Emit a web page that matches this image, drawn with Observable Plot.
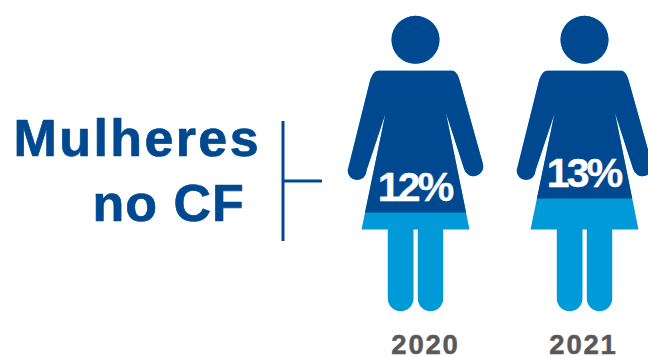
<!DOCTYPE html>
<html lang="pt">
<head>
<meta charset="utf-8">
<script src="https://cdn.jsdelivr.net/npm/d3@7"></script>
<script src="https://cdn.jsdelivr.net/npm/@observablehq/plot@0.6"></script>
<style>
  html, body { margin: 0; padding: 0; background: #fff; }
  .pct text { letter-spacing: -2.8px; }
  .years text { letter-spacing: 1.8px; }
  .head-wide text { letter-spacing: 2.4px; }
  .head-tight text { letter-spacing: 1px; }
</style>
</head>
<body>
<script>
const years = [2020, 2021];
const shares = [12, 13];
const headingLines = ["Mulheres", "no CF"];

const DARK = "#00488f";
const LIGHT = "#009ad9";
const GREY = "#595959";

// The scales place a year on its figure and a share on its waterline.
const xPos = d3.scaleLinear().domain([2020, 2021]).range([415, 584]);
const yPos = d3.scaleLinear().domain([12, 13]).range([212, 198]);
const atX = (px) => xPos.invert(px);
const atY = (py) => yPos.invert(py);

const rows = years.map((year, i) => ({year, share: shares[i]}));
const frameTop = atY(0);

// The first year's caption sits a little right of its figure.
const captionShift = {2020: 10, 2021: -1};

// Pictogram outline, drawn around an anchor at the figure's centre on the frame's top edge.
const woman = {
  draw(c) {
    c.moveTo(24, 39.3);
    c.arc(0, 39.3, 24, 0, 2 * Math.PI);
    c.closePath();

    c.moveTo(-37, 70.3);
    c.lineTo(36.7, 70.3);
    c.bezierCurveTo(41, 70.3, 43.5, 77, 45, 83);
    c.lineTo(67.3, 163);
    c.arc(58, 166, 9.7, -0.31, 2.88);
    c.lineTo(30.3, 111.7);
    c.lineTo(54, 229);
    c.lineTo(27.7, 229);
    c.lineTo(27.7, 298);
    c.arc(15, 298, 12.7, 0, Math.PI);
    c.lineTo(2.3, 229);
    c.lineTo(-2, 229);
    c.lineTo(-2, 298);
    c.arc(-14.85, 298, 12.85, 0, Math.PI);
    c.lineTo(-27.7, 229);
    c.lineTo(-54, 229);
    c.lineTo(-30, 113);
    c.lineTo(-49, 170);
    c.arc(-58.4, 170, 9.4, 0, Math.PI);
    c.lineTo(-45.7, 81);
    c.bezierCurveTo(-44, 75, -41, 70.3, -37, 70.3);
    c.closePath();
  }
};

// Keeps only the part of a figure that lies above its share's waterline.
function aboveWaterline(row) {
  return (index, scales, values, dimensions, context, next) => {
    const g = next(index, scales, values, dimensions, context);
    const id = `waterline-${row.year}`;
    const clip = d3.create("svg:clipPath").attr("id", id);
    clip.append("rect")
      .attr("x", 0).attr("y", 0)
      .attr("width", dimensions.width)
      .attr("height", scales.y(row.share));
    g.insertBefore(clip.node(), g.firstChild);
    g.setAttribute("clip-path", `url(#${id})`);
    return g;
  };
}

const figure = (data, fill, extra = {}) =>
  Plot.dot(data, {x: "year", y: () => frameTop, symbol: woman, fill, stroke: "none", ...extra});

const heading = (line, dx, dy, className) =>
  Plot.text([line], {
    text: (d) => d,
    frameAnchor: "top-left",
    lineAnchor: "bottom",
    textAnchor: "start",
    dx,
    dy,
    fill: DARK,
    stroke: DARK,
    strokeWidth: 0.7,
    fontSize: 52,
    fontWeight: "bold",
    className
  });

const chart = Plot.plot({
  width: 648,
  height: 356,
  marginTop: 0,
  marginRight: 0,
  marginLeft: 0,
  marginBottom: 0,
  style: {background: "#fff", fontFamily: "'Liberation Sans', Arial, sans-serif"},
  x: {domain: xPos.domain(), range: xPos.range(), axis: null},
  y: {domain: yPos.domain(), range: yPos.range(), axis: null},
  marks: [
    figure(rows, LIGHT),
    ...rows.map((row) => figure([row], DARK, {render: aboveWaterline(row)})),

    Plot.text(rows, {
      x: "year",
      y: "share",
      text: (d) => `${d.share}%`,
      fill: "#fff",
      stroke: "#fff",
      strokeWidth: 0.4,
      fontSize: 41,
      fontWeight: "bold",
      lineAnchor: "bottom",
      dy: -12,
      dx: -1,
      className: "pct"
    }),

    // Heading on the left, with its bracket pointing at the figures.
    heading(headingLines[0], 13, 155, "head-wide"),
    heading(headingLines[1], 92, 220.5, "head-tight"),
    Plot.ruleX([atX(282.5)], {y1: atY(121), y2: atY(241), stroke: DARK, strokeWidth: 3}),
    Plot.ruleY([atY(180.5)], {x1: atX(283), x2: atX(322), stroke: DARK, strokeWidth: 3}),

    // Year captions under the figures.
    Plot.text(rows, {
      x: (d) => atX(xPos(d.year) + captionShift[d.year]),
      text: (d) => String(d.year),
      frameAnchor: "bottom",
      lineAnchor: "bottom",
      dy: -3,
      fill: GREY,
      stroke: GREY,
      strokeWidth: 0.5,
      fontSize: 27.5,
      fontWeight: "bold",
      className: "years"
    })
  ]
});

document.body.append(chart);
</script>
</body>
</html>
